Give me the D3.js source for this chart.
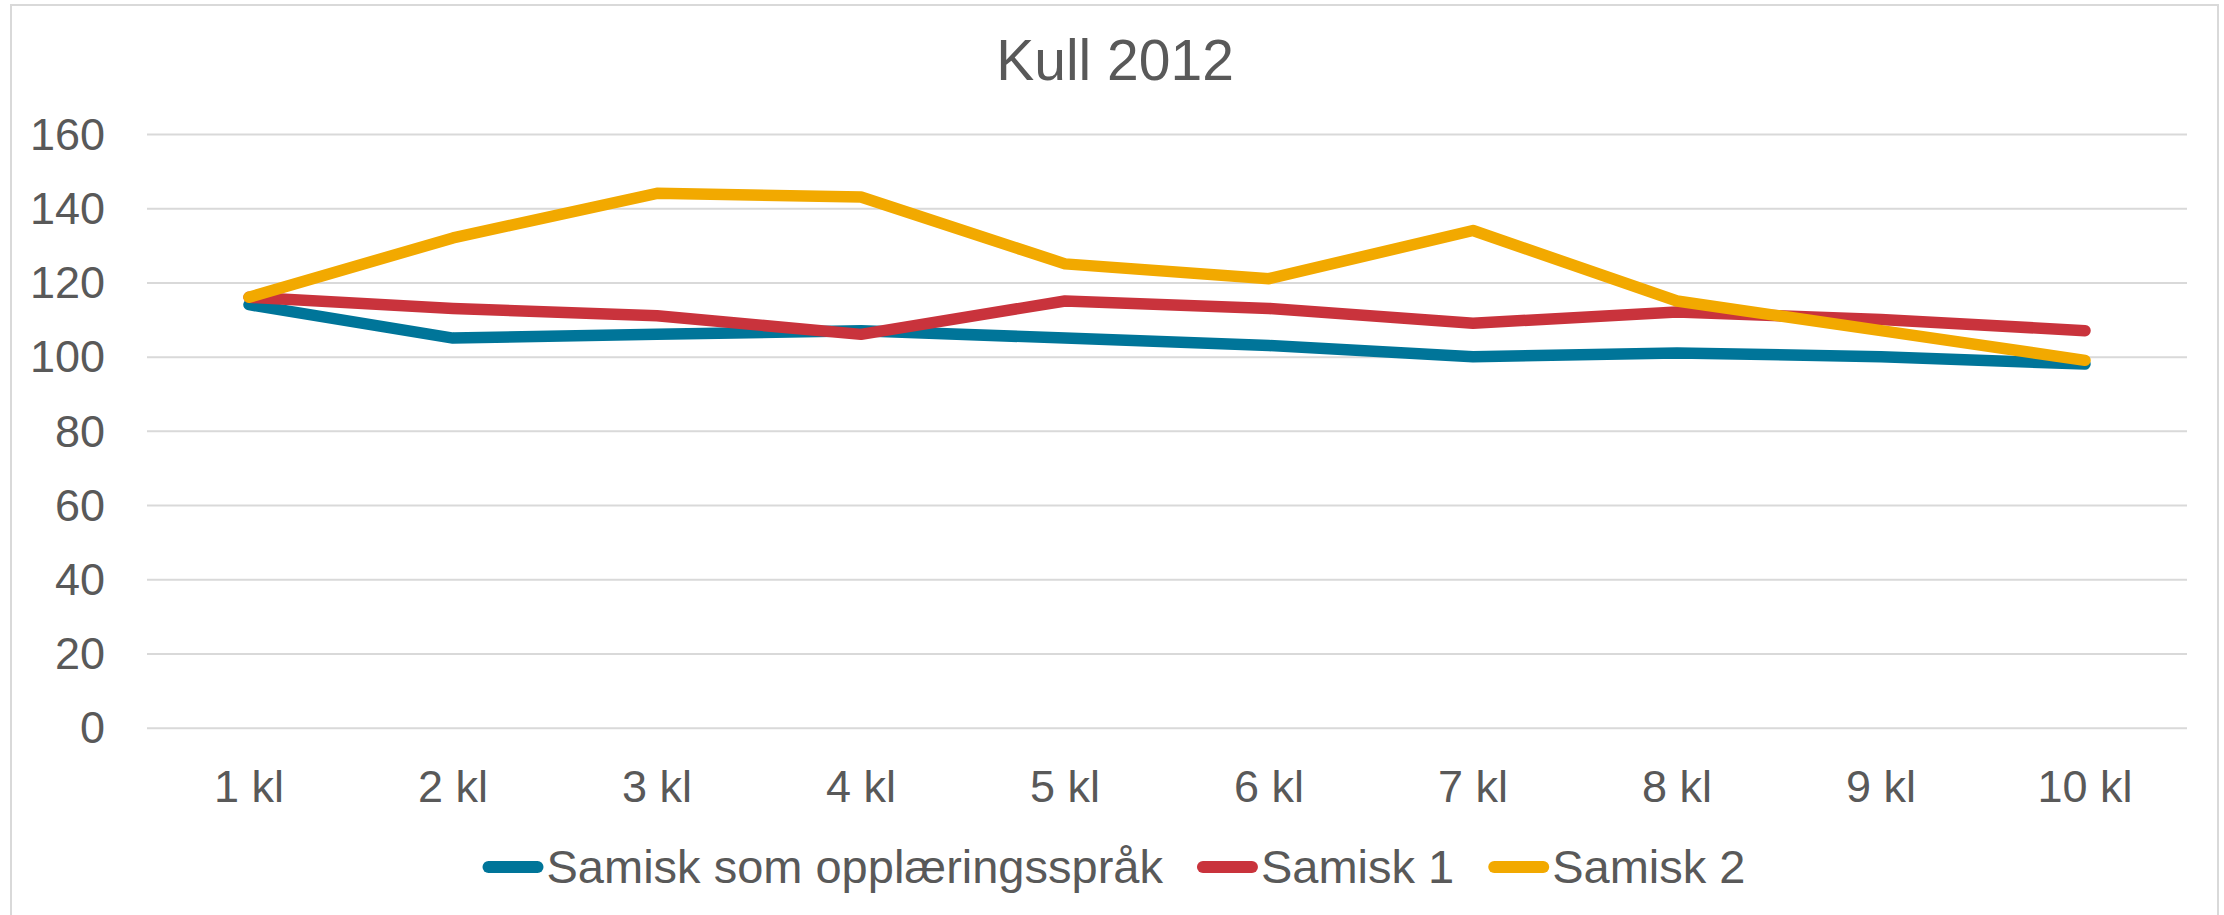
<!DOCTYPE html>
<html>
<head>
<meta charset="utf-8">
<script src="https://cdn.jsdelivr.net/npm/d3@7/dist/d3.min.js"></script>
<style>
  html, body { margin: 0; padding: 0; background: #ffffff; }
  svg { display: block; }
  text { font-family: "Liberation Sans", Arial, sans-serif; fill: #595959; }
</style>
</head>
<body>
<svg id="chart" width="2224" height="915"></svg>
<script>
const title = "Kull 2012";
const categories = ["1 kl", "2 kl", "3 kl", "4 kl", "5 kl", "6 kl", "7 kl", "8 kl", "9 kl", "10 kl"];
const seriesNames = ["Samisk som opplæringsspråk", "Samisk 1", "Samisk 2"];
const samiskOpplaering = [114, 105, 106, 107, 105, 103, 100, 101, 100, 98];
const samisk1 = [116, 113, 111, 106, 115, 113, 109, 112, 110, 107];
const samisk2 = [116, 132, 144, 143, 125, 121, 134, 115, 107, 99];
const yTicks = [0, 20, 40, 60, 80, 100, 120, 140, 160];
const colors = ["#007599", "#C9333C", "#F2A900"];

const seriesValues = [samiskOpplaering, samisk1, samisk2];

const W = 2224, H = 915;
const svg = d3.select("#chart");

// chart border
svg.append("rect")
  .attr("x", 11).attr("y", 5)
  .attr("width", 2207).attr("height", 930)
  .attr("fill", "#ffffff")
  .attr("stroke", "#d9d9d9").attr("stroke-width", 2);

const plot = { left: 147, right: 2187, top: 134, bottom: 727.7 };

const x = d3.scaleBand().domain(categories).range([plot.left, plot.right]).padding(0);
const y = d3.scaleLinear().domain([0, 160]).range([plot.bottom, plot.top]);

// gridlines
const grid = svg.append("g")
  .attr("transform", `translate(${plot.left},0)`)
  .call(d3.axisLeft(y).tickValues(yTicks).tickSize(-(plot.right - plot.left)).tickFormat(""));
grid.select(".domain").remove();
grid.selectAll("line").attr("stroke", "#d9d9d9").attr("stroke-width", 2);

// y labels
svg.append("g").selectAll("text")
  .data(yTicks).join("text")
  .attr("x", 105)
  .attr("y", d => y(d))
  .attr("dy", "0.35em")
  .attr("text-anchor", "end")
  .style("font-size", "45px")
  .text(d => d);

// x labels
svg.append("g").selectAll("text")
  .data(categories).join("text")
  .attr("x", d => x(d) + x.bandwidth() / 2)
  .attr("y", 802)
  .attr("text-anchor", "middle")
  .style("font-size", "45px")
  .text(d => d);

// title
svg.append("text")
  .attr("x", 1115).attr("y", 80)
  .attr("text-anchor", "middle")
  .style("font-size", "57px")
  .text(title);

// lines
const line = d3.line()
  .x((d, i) => x(categories[i]) + x.bandwidth() / 2)
  .y(d => y(d));

svg.append("g").selectAll("path")
  .data(seriesValues).join("path")
  .attr("d", d => line(d))
  .attr("fill", "none")
  .attr("stroke", (d, i) => colors[i])
  .attr("stroke-width", 11.5)
  .attr("stroke-linecap", "round")
  .attr("stroke-linejoin", "round");

// legend
const legend = svg.append("g");
const items = legend.selectAll("g").data(seriesNames).join("g");
items.append("line")
  .attr("x1", 6).attr("x2", 55)
  .attr("y1", 0).attr("y2", 0)
  .attr("stroke", (d, i) => colors[i])
  .attr("stroke-width", 12)
  .attr("stroke-linecap", "round");
items.append("text")
  .attr("x", 64)
  .attr("y", 16)
  .style("font-size", "47px")
  .text(d => d);

const gap = 34;
const widths = [];
items.each(function() {
  const tw = d3.select(this).select("text").node().getComputedTextLength();
  widths.push(64 + tw);
});
const total = d3.sum(widths) + gap * (widths.length - 1);
let start = 1114 - total / 2;
items.attr("transform", (d, i) => {
  const tx = start;
  start += widths[i] + gap;
  return `translate(${tx},867)`;
});
</script>
</body>
</html>
